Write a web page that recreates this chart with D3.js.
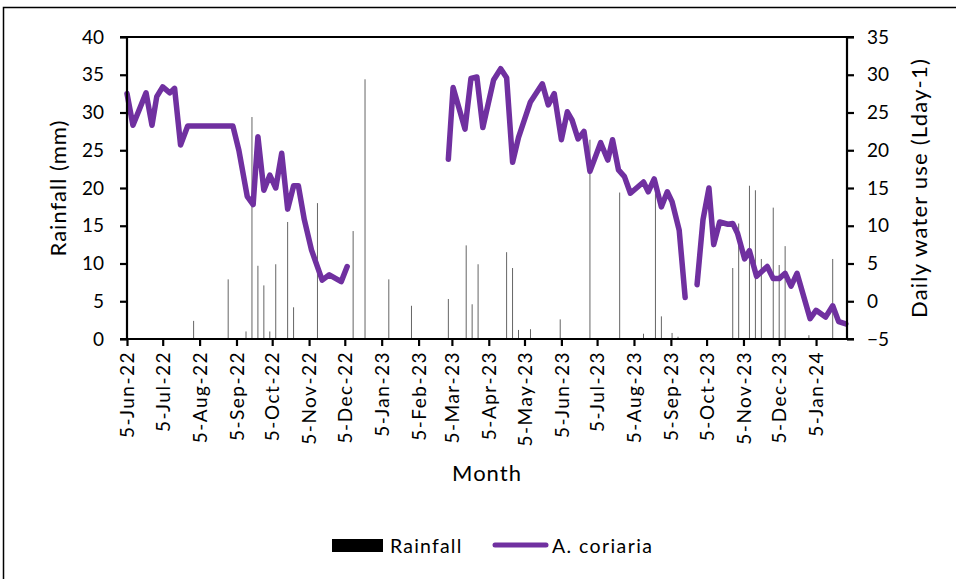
<!DOCTYPE html>
<html>
<head>
<meta charset="utf-8">
<script src="https://cdn.jsdelivr.net/npm/d3@7"></script>
<style>
  body { margin: 0; background: #fff; }
  svg text { font-family: Lato, "Open Sans", sans-serif; fill: #000; }
</style>
</head>
<body>
<svg id="chart" width="956" height="579"></svg>
<script>
"use strict"

// rainfall (mm), one bar per rain day
const rainDates = ["2022-07-31","2022-08-29","2022-09-13","2022-09-18","2022-09-23","2022-09-28",
  "2022-10-03","2022-10-08","2022-10-18","2022-10-23","2022-11-12","2022-12-12","2022-12-22",
  "2023-01-11","2023-01-30","2023-03-02","2023-03-17","2023-03-22","2023-03-27","2023-04-20",
  "2023-04-25","2023-04-30","2023-05-10","2023-06-04","2023-06-29","2023-07-24","2023-08-13",
  "2023-08-23","2023-08-28","2023-09-06","2023-09-11","2023-10-27","2023-11-01","2023-11-10",
  "2023-11-15","2023-11-20","2023-11-30","2023-12-05","2023-12-10","2023-12-30","2024-01-19"];
const rainValues = [2.4,7.9,1.0,29.4,9.7,7.1,
  1.0,9.9,15.5,4.2,18.0,14.3,34.4,
  7.9,4.4,5.3,12.4,4.6,9.9,11.5,
  9.4,1.2,1.3,2.6,26.4,19.4,0.7,
  19.3,3.0,0.8,0.3,9.4,15.3,20.3,
  19.7,10.6,17.4,9.8,12.3,0.5,10.6];

// daily water use of A. coriaria (L day-1), null = no data
const useDates = ["2022-06-05","2022-06-10","2022-06-21","2022-06-26","2022-06-30","2022-07-05",
  "2022-07-11","2022-07-15","2022-07-20","2022-07-26","2022-09-02","2022-09-07","2022-09-14",
  "2022-09-19","2022-09-23","2022-09-28","2022-10-03","2022-10-08","2022-10-13","2022-10-18",
  "2022-10-23","2022-10-27","2022-11-01","2022-11-07","2022-11-16","2022-11-22","2022-12-02",
  "2022-12-07","2023-01-15",
  "2023-03-02","2023-03-06","2023-03-16","2023-03-21","2023-03-26","2023-03-31","2023-04-09",
  "2023-04-15","2023-04-20","2023-04-25","2023-04-30","2023-05-10","2023-05-20","2023-05-25",
  "2023-05-30","2023-06-05","2023-06-10","2023-06-14","2023-06-19","2023-06-24","2023-06-29",
  "2023-07-08","2023-07-14","2023-07-18","2023-07-23","2023-07-28","2023-08-02","2023-08-13",
  "2023-08-17","2023-08-22","2023-08-28","2023-09-02","2023-09-06","2023-09-12","2023-09-17",
  "2023-09-22",
  "2023-09-27","2023-10-02","2023-10-07","2023-10-11","2023-10-16","2023-10-23","2023-10-27",
  "2023-10-31","2023-11-06","2023-11-10","2023-11-16","2023-11-25","2023-11-30","2023-12-05",
  "2023-12-10","2023-12-15","2023-12-20","2023-12-31","2024-01-05","2024-01-13","2024-01-19",
  "2024-01-24","2024-01-30"];
const useValues = [27.5,23.3,27.6,23.3,27.1,28.4,
  27.6,28.2,20.7,23.2,23.2,20.0,13.9,
  12.8,21.8,14.7,16.7,15.0,19.6,12.2,
  15.3,15.3,10.8,6.8,2.8,3.5,2.6,
  4.6,null,
  18.8,28.3,22.8,29.5,29.7,23.0,29.3,
  30.8,29.6,18.4,21.7,26.4,28.8,26.0,
  27.5,21.4,25.1,24.0,21.5,22.5,17.2,
  21.0,18.7,21.4,17.4,16.5,14.3,15.8,
  14.5,16.2,12.5,14.5,13.2,9.4,0.5,
  null,
  2.2,10.8,15.0,7.5,10.5,10.2,10.3,
  9.0,5.6,6.7,3.3,4.6,3.0,3.0,
  3.7,2.0,3.7,-2.3,-1.2,-2.1,-0.6,
  -2.7,-3.0];

const rainTicks = [0,5,10,15,20,25,30,35,40];
const useTicks = [-5,0,5,10,15,20,25,30,35];

const parse = d3.timeParse("%Y-%m-%d");
const svg = d3.select("#chart");

const plotLeft = 127, plotRight = 847, plotTop = 37, plotBottom = 339;

// outer frame
svg.append("rect")
  .attr("x", 3.5).attr("y", 7.5)
  .attr("width", 970).attr("height", 590)
  .attr("fill", "none").attr("stroke", "#000").attr("stroke-width", 1.5);

const x = d3.scaleTime()
  .domain([parse("2022-06-05"), parse("2024-01-31")])
  .range([plotLeft, plotRight]);
const yRain = d3.scaleLinear().domain([0, 40]).range([plotBottom, plotTop]);
const yUse = d3.scaleLinear().domain([-5, 35]).range([plotBottom, plotTop]);

// rainfall bars
svg.append("g").selectAll("rect")
  .data(rainDates)
  .enter().append("rect")
    .attr("x", (d, i) => x(parse(d)) - 0.45)
    .attr("y", (d, i) => yRain(rainValues[i]))
    .attr("width", 0.9)
    .attr("height", (d, i) => plotBottom - yRain(rainValues[i]))
    .attr("fill", "#555");

// water use line
const usePoints = useDates.map((d, i) => ({date: parse(d), value: useValues[i]}));
const line = d3.line()
  .defined(d => d.value !== null)
  .x(d => x(d.date))
  .y(d => yUse(d.value));

svg.append("path")
  .datum(usePoints)
  .attr("d", line)
  .attr("fill", "none")
  .attr("stroke", "#7030A0")
  .attr("stroke-width", 5.5)
  .attr("stroke-linejoin", "round")
  .attr("stroke-linecap", "round");

// plot top border
svg.append("line")
  .attr("x1", plotLeft).attr("x2", plotRight)
  .attr("y1", plotTop).attr("y2", plotTop)
  .attr("stroke", "#000").attr("stroke-width", 2);

// axes
const axisLeft = svg.append("g")
  .attr("transform", `translate(${plotLeft},0)`)
  .call(d3.axisLeft(yRain).tickValues(rainTicks).tickSize(7).tickPadding(16));

const axisRight = svg.append("g")
  .attr("transform", `translate(${plotRight},0)`)
  .call(d3.axisRight(yUse).tickValues(useTicks).tickSize(7).tickPadding(13));

const monthTicks = d3.range(20).map(i => new Date(2022, 5 + i, 5));
const axisBottom = svg.append("g")
  .attr("transform", `translate(0,${plotBottom})`)
  .call(d3.axisBottom(x).tickValues(monthTicks).tickSize(7).tickFormat(d3.timeFormat("%-d-%b-%y")));

[axisLeft, axisRight, axisBottom].forEach(a => {
  a.select(".domain").attr("stroke-width", 2.2);
  a.selectAll(".tick line").attr("stroke-width", 2.2);
  a.selectAll(".tick text").style("font-size", "19px");
});

axisBottom.selectAll(".tick text")
  .attr("transform", "rotate(-90)")
  .attr("x", -12)
  .attr("y", 0)
  .attr("dy", "0.35em")
  .style("text-anchor", "end")
  .style("letter-spacing", "1.5px");

axisLeft.select(".domain").attr("d", `M-7,${plotBottom}H0V${plotTop}H-7`);
axisRight.select(".domain").attr("d", `M7,${plotBottom}H0V${plotTop}H7`);
axisBottom.select(".domain").attr("d", `M${plotLeft},0H${plotRight}`);

// axis titles
svg.append("text")
  .attr("transform", "translate(66,188) rotate(-90)")
  .attr("text-anchor", "middle")
  .style("font-size", "22px")
  .style("letter-spacing", "1px")
  .text("Rainfall (mm)");

svg.append("text")
  .attr("transform", "translate(927,188) rotate(-90)")
  .attr("text-anchor", "middle")
  .style("font-size", "22px")
  .style("letter-spacing", "1.2px")
  .text("Daily water use (Lday-1)");

svg.append("text")
  .attr("x", 487).attr("y", 481)
  .attr("text-anchor", "middle")
  .style("font-size", "22px")
  .style("letter-spacing", "1px")
  .text("Month");

// legend
svg.append("rect")
  .attr("x", 332).attr("y", 539)
  .attr("width", 51).attr("height", 13)
  .attr("fill", "#000");
svg.append("text")
  .attr("x", 390).attr("y", 553)
  .style("font-size", "19.5px")
  .style("letter-spacing", "1.2px")
  .text("Rainfall");
svg.append("line")
  .attr("x1", 495).attr("x2", 546)
  .attr("y1", 545).attr("y2", 545)
  .attr("stroke", "#7030A0").attr("stroke-width", 5)
  .attr("stroke-linecap", "round");
svg.append("text")
  .attr("x", 552).attr("y", 553)
  .style("font-size", "19.5px")
  .style("letter-spacing", "1.4px")
  .text("A. coriaria");
</script>
</body>
</html>
